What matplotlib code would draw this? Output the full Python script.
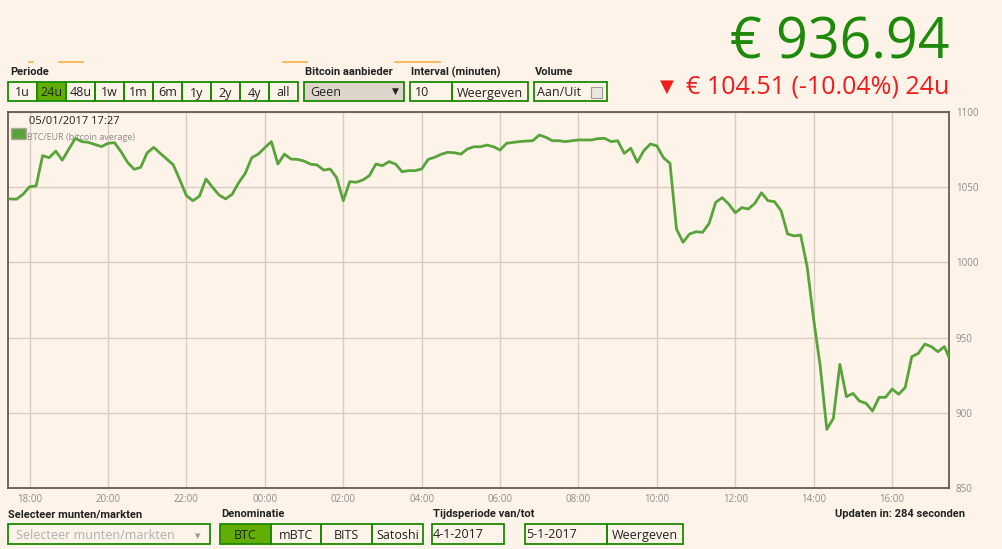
import matplotlib
matplotlib.use('Agg')
import matplotlib.pyplot as plt
import matplotlib.dates as mdates
from matplotlib.patches import Rectangle
import pandas as pd

# koersdata BTC/EUR, elke 10 minuten + laatste live koers
start = '2017-01-04 17:30'
last_time = '2017-01-05 17:27'
prices = [
    1042.2, 1042.0, 1045.3, 1050.3, 1050.8, 1071.0, 1069.6, 1074.0, 1068.0, 1075.2,
    1082.5, 1080.3, 1079.8, 1078.4, 1077.0, 1079.2, 1079.6, 1073.6, 1066.5, 1061.9,
    1063.2, 1072.9, 1076.5, 1072.5, 1068.7, 1064.8, 1054.8, 1044.4, 1041.0, 1044.1,
    1055.5, 1049.9, 1044.8, 1042.2, 1045.3, 1053.0, 1059.2, 1069.6, 1072.0, 1076.3,
    1080.3, 1065.4, 1072.0, 1068.7, 1068.5, 1067.4, 1065.3, 1064.8, 1061.4, 1062.1,
    1056.3, 1041.0, 1053.7, 1053.3, 1054.8, 1057.7, 1065.4, 1064.3, 1067.0, 1065.4,
    1060.3, 1061.0, 1061.0, 1062.1, 1068.5, 1069.9, 1071.9, 1073.2, 1072.9, 1072.0,
    1075.4, 1076.9, 1076.9, 1078.0, 1076.9, 1074.7, 1079.2, 1079.8, 1080.3, 1080.7,
    1080.9, 1084.7, 1083.2, 1080.9, 1080.9, 1080.3, 1080.9, 1081.4, 1081.4, 1081.4,
    1082.3, 1082.5, 1080.3, 1080.9, 1072.5, 1075.9, 1066.6, 1074.3, 1078.7, 1077.5,
    1069.6, 1065.9, 1022.2, 1013.4, 1018.9, 1020.4, 1020.0, 1026.0, 1040.0, 1043.0,
    1038.8, 1033.0, 1036.4, 1035.5, 1039.3, 1046.3, 1041.0, 1040.4, 1034.4, 1018.9,
    1017.6, 1018.2, 997.0, 961.7, 930.7, 889.0, 896.3, 932.2, 910.7, 912.9,
    907.8, 906.3, 901.2, 910.3, 910.3, 915.8, 912.3, 916.9, 937.3, 939.5,
    945.7, 944.0, 940.6, 944.0, 936.94]
y_ticks = [850, 900, 950, 1000, 1050, 1100]

periods = ['1u', '24u', '48u', '1w', '1m', '6m', '1y', '2y', '4y', 'all']
denominations = ['BTC', 'mBTC', 'BITS', 'Satoshi']

times = list(pd.date_range(start, periods=len(prices) - 1, freq='10min')) + [pd.Timestamp(last_time)]

BG = '#fdf3e9'
LINE = '#58a43a'
BORDER = '#1a8a00'
ACTIVE = '#62ae00'
W, H = 1003, 549

fig = plt.figure(figsize=(W / 100, H / 100), dpi=100, facecolor=BG)


def box(x0, y0, x1, y1, fc='none', ec=BORDER, lw=1.3):
    fig.add_artist(Rectangle((x0 / W, 1 - y1 / H), (x1 - x0) / W, (y1 - y0) / H,
                             transform=fig.transFigure, fc=fc, ec=ec, lw=lw))


def txt(x, y, s, **kw):
    fig.text(x / W, 1 - y / H, s, **kw)


ui = dict(family=['Open Sans', 'DejaVu Sans'], color='#222222', va='center')
lab = dict(family=['Liberation Sans Narrow', 'Roboto'], color='#222222', va='center',
           fontsize=8, fontweight='bold')

# grafiek
ax = fig.add_axes([8 / W, 1 - 488 / H, 941 / W, 376 / H])
ax.set_facecolor(BG)
ax.plot(times, prices, color=LINE, lw=2, zorder=3)
ax.set_xlim(pd.Timestamp('2017-01-04 17:27'), pd.Timestamp(last_time))
ax.set_ylim(850, 1100)
ax.set_yticks(y_ticks)
ax.yaxis.tick_right()
ax.xaxis.set_major_locator(mdates.HourLocator(byhour=range(0, 24, 2)))
ax.xaxis.set_major_formatter(mdates.DateFormatter('%H:%M'))
ax.tick_params(length=0, labelsize=7, labelcolor='#8c8c8c')
ax.tick_params(axis='x', pad=4.5)
ax.tick_params(axis='y', pad=5)
for lbl in ax.get_xticklabels() + ax.get_yticklabels():
    lbl.set_family('Open Sans')
ax.grid(True, color='#d8cdc1', lw=1)
for s in ax.spines.values():
    s.set_color('#5c4f44')
    s.set_linewidth(1.2)

# legenda in grafiek
box(11, 128, 26, 139, fc=LINE, ec='#b0a89f', lw=1)
txt(29, 121, '05/01/2017 17:27', fontsize=8, family='Open Sans', color='#222222', va='center')
txt(27, 137.5, 'BTC/EUR (bitcoin average)', fontsize=6.5, family='Open Sans', color='#8c8c8c', va='center')

# prijs
txt(949, 44, '€ 936.94', fontsize=40, family='Open Sans', color='#1e8a0a', ha='right', va='center')
txt(949, 87, '€ 104.51 (-10.04%) 24u', fontsize=18, family='Open Sans', color='#f01c1c',
    ha='right', va='center')
txt(667, 87, '▼', fontsize=13, family='DejaVu Sans', color='#f01c1c', ha='center', va='center')

# oranje streepjes
for x0, x1 in [(29, 33), (59, 83), (283, 307), (395, 440)]:
    fig.add_artist(plt.Line2D([x0 / W, x1 / W], [1 - 62 / H] * 2, color='#f7b04a', lw=1.2))

# bovenste rij
txt(10, 72, 'Periode', **lab)
bw = 29
for i, p in enumerate(periods):
    x0 = 8 + i * bw
    box(x0, 82, x0 + bw, 101, fc=ACTIVE if p == '24u' else 'none')
    txt(x0 + bw / 2, 93, p, fontsize=9, ha='center', **ui)

txt(305, 72, 'Bitcoin aanbieder', **lab)
box(304, 82, 404, 101, fc='#ddd5cb')
txt(310, 93, 'Geen', fontsize=9, **ui)
txt(395, 91.5, '▼', fontsize=6.5, ha='center', family='DejaVu Sans', color='#222222', va='center')

txt(411, 72, 'Interval (minuten)', **lab)
box(410, 82, 452, 101)
box(452, 82, 528, 101)
txt(415, 93, '10', fontsize=9, **ui)
txt(490, 93, 'Weergeven', fontsize=9, ha='center', **ui)

txt(535, 72, 'Volume', **lab)
box(534, 82, 607, 101)
txt(537, 93, 'Aan/Uit', fontsize=9, **ui)
box(591, 87, 602, 98, fc='#ebe7e3', ec='#a09a94', lw=0.8)

# onderste rij
txt(8, 514, 'Selecteer munten/markten', **lab)
box(8, 524, 210, 544)
txt(16, 535.5, 'Selecteer munten/markten', fontsize=9, family=['Open Sans', 'DejaVu Sans'],
    color='#b0b0b0', va='center')
txt(198, 536, '▼', fontsize=5, ha='center', family='DejaVu Sans', color='#999999', va='center')

txt(221, 514, 'Denominatie', **lab)
dx = [220, 271, 321, 372, 423]
for i, d in enumerate(denominations):
    box(dx[i], 524, dx[i + 1], 544, fc=ACTIVE if d == 'BTC' else 'none')
    txt((dx[i] + dx[i + 1]) / 2, 535.5, d, fontsize=9, ha='center', **ui)

txt(433, 514, 'Tijdsperiode van/tot', **lab)
box(432, 524, 504, 544)
txt(433, 535, '4-1-2017', fontsize=9, **ui)
box(525, 524, 607, 544)
box(607, 524, 683, 544)
txt(526, 535, '5-1-2017', fontsize=9, **ui)
txt(645, 535.5, 'Weergeven', fontsize=9, ha='center', **ui)

txt(965, 514, 'Updaten in: 284 seconden', ha='right', **lab)

fig.savefig('out.png', dpi=100, facecolor=BG)
